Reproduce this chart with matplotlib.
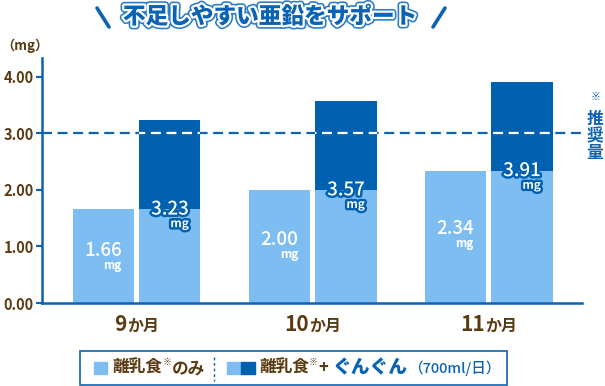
import matplotlib
matplotlib.use("Agg")
import matplotlib.pyplot as plt
import matplotlib.patheffects as pe
from matplotlib.patches import Rectangle
import numpy as np

plt.rcParams['font.family'] = ['Noto Sans CJK JP', 'DejaVu Sans']

# ---- data ----
months = ["9", "10", "11"]
month_suffix = "か月"
food_only = [1.66, 2.00, 2.34]
food_plus = [3.23, 3.57, 3.91]
recommended = 3.00
yticks = [0.00, 1.00, 2.00, 3.00, 4.00]
title = "不足しやすい亜鉛をサポート"
unit_label = "（mg）"
rec_label = "推奨量"

LIGHT = "#7dbdf1"
DARK = "#0061b1"
BLUE = "#0a63b3"
BROWN = "#5a3a12"

W, H = 605, 386
fig = plt.figure(figsize=(W / 100, H / 100), dpi=100)

def fx(px):
    return px / W

def fy(py):
    return 1 - py / H

ax = fig.add_axes([fx(42), fy(303), fx(582) - fx(42), fy(58) - fy(303)])
ax.set_xlim(-0.537, 2.531)
ax.set_ylim(0, 4.33)

x = np.arange(len(months))
bw = 0.347
off = 0.19

ax.bar(x - off, food_only, width=bw, color=LIGHT, zorder=3)
ax.bar(x + off, food_only, width=bw, color=LIGHT, zorder=3)
dark_bars = ax.bar(x + off, np.array(food_plus) - np.array(food_only), bottom=food_only,
                   width=bw, color=DARK, zorder=3)

# recommended dashed line
ax.axhline(recommended, color=BLUE, lw=1.6, ls=(0, (4.5, 2.5)), zorder=2)
for b in dark_bars:
    ln = ax.axhline(recommended, color="white", lw=1.6, ls=(0, (4.5, 2.5)), zorder=4)
    ln.set_clip_path(b)

# spines
for s in ["top", "right"]:
    ax.spines[s].set_visible(False)
for s in ["left", "bottom"]:
    ax.spines[s].set_color(BLUE)
    ax.spines[s].set_linewidth(1.8)
    ax.spines[s].set_zorder(5)

ax.set_yticks(yticks)
ax.set_yticklabels([f"{v:.2f}" for v in yticks])
ax.tick_params(axis="y", length=4, width=1.5, color=BLUE, pad=2,
               labelsize=10.5, labelcolor=BROWN)
for t in ax.get_yticklabels():
    t.set_fontweight("bold")
ax.set_xticks([])

# value labels
for i in range(len(months)):
    h = food_only[i]
    t = ax.text(x[i] - off, h * 0.56, f"{h:.2f}", color="white", fontsize=13.5,
                ha="center", va="center", zorder=6, fontweight="medium")
    ax.annotate("mg", xy=(1, 0), xycoords=t, xytext=(0, 1), textcoords="offset points",
                ha="right", va="top", color="white", fontsize=8.5, fontweight="bold", zorder=6)
    stroke = [pe.withStroke(linewidth=3.5, foreground=DARK)]
    t2 = ax.text(x[i] + off, h, f"{food_plus[i]:.2f}", color="white", fontsize=13.5,
                 ha="center", va="center", zorder=6, fontweight="medium", path_effects=stroke)
    ax.annotate("mg", xy=(1, 0), xycoords=t2, xytext=(0, 1), textcoords="offset points",
                ha="right", va="top", color="white", fontsize=8.5, fontweight="bold", zorder=6,
                path_effects=stroke)

# x category labels (number big + suffix small), centered per group
num_texts, suf_texts = [], []
for i, m in enumerate(months):
    tn = ax.text(x[i], -0.2, m, color=BROWN, fontsize=15, fontweight="bold",
                 ha="left", va="baseline", clip_on=False)
    ts = ax.text(x[i], -0.2, month_suffix, color=BROWN, fontsize=11.5, fontweight="bold",
                 ha="left", va="baseline", clip_on=False)
    num_texts.append(tn)
    suf_texts.append(ts)
fig.canvas.draw()
r = fig.canvas.get_renderer()
inv = ax.transData.inverted()
for i in range(len(months)):
    bn = num_texts[i].get_window_extent(r)
    bs = suf_texts[i].get_window_extent(r)
    total = bn.width + bs.width
    cx = ax.transData.transform((x[i], 0))[0]
    left = cx - total / 2
    y_disp = ax.transData.transform((0, -0.5))[1]
    num_texts[i].set_position(inv.transform((left, y_disp)))
    suf_texts[i].set_position(inv.transform((left + bn.width, y_disp)))

# unit label
fig.text(fx(1), fy(46), unit_label, color=BROWN, fontsize=9.5, fontweight="bold",
         ha="left", va="center")

# recommended label (vertical)
fig.text(fx(595), fy(97), "※", color=BLUE, fontsize=7, ha="center", va="center",
         fontweight="bold")
fig.text(fx(595), fy(136), "\n".join(rec_label), color=BLUE, fontsize=12, ha="center",
         va="center", fontweight="bold", linespacing=0.95)

# title
title_fx = [pe.Stroke(linewidth=5.5, foreground="#2a7cc8"),
            pe.Stroke(linewidth=3.2, foreground="white"), pe.Normal()]
fig.text(fx(270), fy(17), title, color=BLUE, fontsize=16.3, fontweight="black",
         ha="center", va="center", path_effects=title_fx)
for (x0, y0, x1, y1) in [(97, 8, 109, 27), (445, 8, 433, 27)]:
    fig.lines.append(plt.Line2D([fx(x0), fx(x1)], [fy(y0), fy(y1)], transform=fig.transFigure,
                                color=BLUE, lw=2.6, solid_capstyle="round"))

# legend box
fig.patches.append(Rectangle((fx(80), fy(385)), fx(507) - fx(80), fy(351) - fy(385),
                             transform=fig.transFigure, fill=False, edgecolor=BLUE,
                             linewidth=1.2))
ly = fy(368)
fig.patches.append(Rectangle((fx(94), fy(374)), fx(13), fy(362) - fy(374),
                             transform=fig.transFigure, color=LIGHT))
fig.text(fx(112), ly, "離乳食", color=BROWN, fontsize=12, fontweight="bold",
         ha="left", va="center")
fig.text(fx(163), fy(362), "※", color=BROWN, fontsize=6.5, ha="left", va="center")
fig.text(fx(172), ly, "のみ", color=BROWN, fontsize=12, fontweight="bold",
         ha="left", va="center")
fig.lines.append(plt.Line2D([fx(214), fx(214)], [fy(357), fy(381)], transform=fig.transFigure,
                            color=BLUE, lw=1, ls=(0, (2, 2))))
fig.patches.append(Rectangle((fx(227), fy(374)), fx(14), fy(362) - fy(374),
                             transform=fig.transFigure, color=LIGHT))
fig.patches.append(Rectangle((fx(241), fy(374)), fx(14), fy(362) - fy(374),
                             transform=fig.transFigure, color=DARK))
fig.text(fx(259), ly, "離乳食", color=BROWN, fontsize=12, fontweight="bold",
         ha="left", va="center")
fig.text(fx(309), fy(362), "※", color=BROWN, fontsize=6.5, ha="left", va="center")
fig.text(fx(318), ly, "+", color=BROWN, fontsize=12, fontweight="bold",
         ha="left", va="center")
fig.text(fx(333), ly, "ぐんぐん", color=BLUE, fontsize=13.5, fontweight="black",
         ha="left", va="center", style="italic")
fig.text(fx(408), ly, "（700ml/日）", color=BLUE, fontsize=10.5, fontweight="medium",
         ha="left", va="center")

fig.savefig("out.png", dpi=100)
